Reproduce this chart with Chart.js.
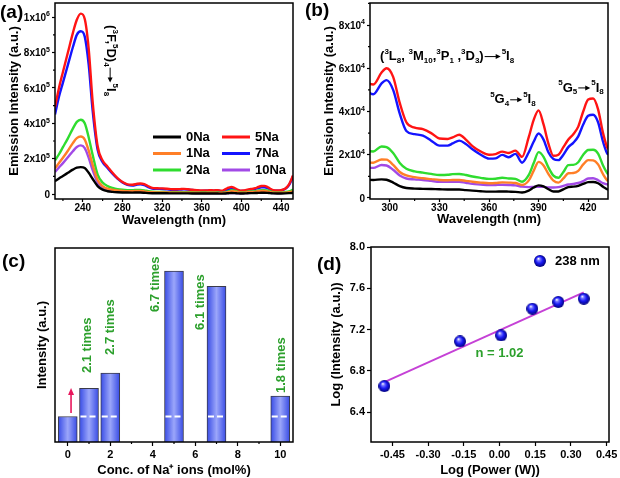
<!DOCTYPE html>
<html>
<head>
<meta charset="utf-8">
<script src="https://cdn.jsdelivr.net/npm/chart.js@4.4.1/dist/chart.umd.min.js"></script>
<style>
    html, body { margin: 0; padding: 0; background: #fff; }
    #page { position: relative; width: 620px; height: 478px; overflow: hidden; }
    canvas { position: absolute; }
</style>
</head>
<body>
<div id="page">
    <canvas id="chartA" width="310" height="232" style="left:0;top:0"></canvas>
    <canvas id="chartB" width="317" height="232" style="left:303px;top:0"></canvas>
    <canvas id="chartC" width="310" height="243" style="left:0;top:235px"></canvas>
    <canvas id="chartD" width="317" height="243" style="left:303px;top:235px"></canvas>
</div>
<script>
// Emission spectra (a, b), values in 10^3 counts
const wavelength = [212, 216, 220, 225, 230, 234, 238, 242, 246, 250, 255, 260, 265, 270, 275, 280, 285,
    290, 295, 298, 302, 306, 310, 315, 320, 325, 330, 335, 338, 342, 346, 350, 355, 360, 364, 368, 372, 376,
    380, 384, 387, 390, 393, 396, 399, 402, 405, 408, 411, 414, 417, 420, 423, 426, 429, 432, 436, 440, 444, 448, 452];

const em0Na = [73, 88, 102, 120, 138, 149, 152, 147, 120, 85, 45, 25, 16, 12, 10, 9, 8.5,
    8.3, 8.6, 8.4, 7.1, 5.5, 4.6, 4.3, 4.2, 4.1, 4, 3.9, 3.9, 3.9, 3.6, 3.4, 3.1, 2.9, 2.9, 3, 2.9, 2.8,
    2.5, 3.4, 4.8, 5.8, 5.3, 4, 3, 3, 4, 5, 5.2, 5.6, 6.5, 7.3, 7.4, 6.8, 5.2, 3.8, 3.5, 3.5, 4, 5, 7];
const em1Na = [145, 175, 205, 245, 288, 316, 325, 308, 245, 165, 80, 45, 30, 24, 20, 18, 16.5,
    16.3, 17.8, 17.7, 15.3, 12, 10.4, 9.6, 9.1, 8.7, 8.3, 8.2, 8.3, 8.3, 7.9, 7.5, 7.1, 6.8, 6.9, 7.2, 7.1, 6.9,
    6, 8, 12.5, 16.7, 15, 11, 8, 7.1, 9, 11.4, 11.5, 12.5, 15.5, 17.5, 17.4, 15.5, 11, 7.8, 7, 7, 8, 10, 15];
const em2Na = [190, 225, 265, 315, 370, 408, 420, 400, 320, 220, 110, 65, 45, 35, 28, 24, 22,
    21.5, 23.8, 23.5, 20.8, 16.2, 13.5, 12.3, 11.7, 11.1, 10.6, 10.7, 11, 11.1, 10.6, 9.9, 9.3, 8.8, 8.9, 9.3, 9, 8.8,
    7.5, 10.5, 16, 21.2, 19, 14, 10.3, 9.3, 12, 15.2, 15.3, 16.5, 20, 22.2, 22.3, 20.5, 15, 11, 9, 9, 11, 15, 25];
const em5Na = [490, 600, 690, 800, 910, 985, 1020, 990, 820, 520, 270, 190, 155, 120, 90, 68, 55,
    52.5, 58, 60, 56, 44, 35, 32.5, 31.8, 30, 27.5, 27.3, 28, 29.2, 27, 24, 21.5, 20, 20.3, 21.4, 20.8, 21.9,
    19, 28, 36, 40.5, 34, 25, 19.5, 20, 23.5, 27, 29.5, 33, 40, 45.5, 46, 41, 30, 22.5, 20, 22, 30, 55, 105];
const em7Na = [450, 550, 630, 730, 830, 900, 920, 890, 730, 470, 250, 180, 148, 115, 87, 66, 52,
    48, 53, 54.5, 50, 39, 31, 29.5, 28.8, 26.5, 24.2, 24.2, 25.2, 26.5, 25, 22.5, 20, 18.2, 18.3, 19.9, 18.8, 20.4,
    16.3, 21, 26, 29.8, 27, 21, 18, 17.5, 20, 23.5, 25.5, 28.5, 34, 38, 38.5, 35, 26, 20, 19, 20, 28, 50, 100];
const em10Na = [125, 150, 175, 208, 242, 266, 275, 260, 205, 135, 65, 38, 25, 19, 16, 15, 14,
    13.9, 15.2, 15, 13, 10.4, 9, 8.6, 8.3, 7.9, 7.5, 7.5, 7.5, 7.5, 7, 6.5, 6.2, 5.9, 6, 6.1, 6, 5.8,
    5.2, 5, 5.1, 5.2, 5.1, 4.9, 4.8, 5, 5.6, 6.2, 6.5, 6.9, 7.8, 9, 9.1, 8.2, 6.8, 6.2, 6, 6, 6.5, 8, 12];

const seriesLabels = ['0Na', '1Na', '2Na', '5Na', '7Na', '10Na'];
const seriesValues = [em0Na, em1Na, em2Na, em5Na, em7Na, em10Na];

const waveTicksA = [240, 280, 320, 360, 400, 440];
const emTicksA = [0, 200, 400, 600, 800, 1000];
const waveTicksB = [300, 330, 360, 390, 420];
const emTicksB = [0, 20, 40, 60, 80];

// Bars (c): relative intensity vs Na+ concentration
const naConc = [0, 1, 2, 5, 7, 10];
const naIntensity = [1, 2.1, 2.7, 6.7, 6.1, 1.8];
const concTicks = [0, 2, 4, 6, 8, 10];

// Power dependence (d)
const logPower = [-0.484, -0.166, 0.007, 0.138, 0.247, 0.354];
const logIntensity = [6.652, 7.085, 7.143, 7.402, 7.467, 7.499];
const fitPower = [-0.484, 0.354];
const fitIntensity = [6.69, 7.56];
const powerTicks = [-0.45, -0.3, -0.15, 0, 0.15, 0.3, 0.45];
const logTicks = [6.4, 6.8, 7.2, 7.6, 8.0];

// Styles
const FONT = '"Liberation Sans", Arial, Helvetica, sans-serif';
const seriesColors = ['#000000', '#ff7f27', '#2fdc2f', '#ff1414', '#1414ff', '#a24ae6'];
const GREEN_TEXT = '#2ca02c';

Chart.defaults.font.family = FONT;
Chart.defaults.font.weight = 'bold';
Chart.defaults.color = '#000';
Chart.defaults.animation = false;

// "2x10^5" style label as rich-text parts (value given in 10^3 counts)
function sciParts(thousands) {
    if (thousands === 0) return [['0', '']];
    const v = thousands * 1000;
    const e = Math.floor(Math.log10(v) + 1e-9);
    return [[Math.round(v / 10 ** e) + 'x10', ''], [String(e), '^']];
}

// text with super/subscripts; kind '^' sup, '_' sub, '>' arrow of given length
function walkRich(ctx, parts, x, y, size, draw) {
    let cx = x;
    for (const [txt, kind] of parts) {
        if (kind === '>') {
            const len = +txt;
            if (draw) {
                ctx.lineWidth = 1;
                ctx.beginPath();
                ctx.moveTo(cx + 1, y);
                ctx.lineTo(cx + len - 2, y);
                ctx.stroke();
                ctx.beginPath();
                ctx.moveTo(cx + len, y);
                ctx.lineTo(cx + len - 5, y - 2.5);
                ctx.lineTo(cx + len - 5, y + 2.5);
                ctx.closePath();
                ctx.fill();
            }
            cx += len + 1;
            continue;
        }
        const s = kind ? Math.round(size * 0.65) : size;
        ctx.font = `bold ${s}px ${FONT}`;
        const dy = kind === '^' ? -size * 0.36 : kind === '_' ? size * 0.3 : 0;
        if (draw) ctx.fillText(txt, cx, y + dy);
        cx += ctx.measureText(txt).width;
    }
    return cx - x;
}

function drawRich(ctx, parts, x, y, size) {
    ctx.textAlign = 'left';
    ctx.textBaseline = 'middle';
    return walkRich(ctx, parts, x, y, size, true);
}

function makeScale({ min, max, ticks, format, title, size, titlePad, tickSize = 11, tickPad = 2, tickLen = 4,
    showTicks = true, showLabels = true }) {
    return {
        type: 'linear',
        min, max,
        offset: false,
        afterBuildTicks: s => { s.ticks = ticks.map(v => ({ value: v })); },
        afterFit: s => { if (s.isHorizontal()) s.height = size; else s.width = size; },
        ticks: {
            display: showTicks && showLabels,
            callback: v => format(v),
            font: { size: tickSize, weight: 'bold' },
            padding: tickPad,
            maxRotation: 0,
            autoSkip: false
        },
        grid: {
            display: showTicks,
            drawOnChartArea: false,
            tickLength: tickLen,
            tickColor: '#000',
            tickWidth: 1.2,
            offset: false
        },
        border: { display: false },
        title: { display: true, text: title, font: { size: 13, weight: 'bold' }, padding: titlePad, color: '#000' }
    };
}

// frame, minor ticks, rich y labels and panel tag
Chart.register({
    id: 'frame',
    defaults: { minorX: true, minorY: true, richY: false, tag: '', tagX: 0, tagY: 0 },
    afterDatasetsDraw(chart, args, opts) {
        const { ctx, chartArea: a, scales } = chart;
        ctx.save();
        ctx.strokeStyle = '#000';
        ctx.fillStyle = '#000';
        ctx.lineWidth = 1.2;
        [['x', opts.minorX], ['y', opts.minorY]].forEach(([id, on]) => {
            const s = scales[id];
            if (!on || s.ticks.length < 2) return;
            const step = s.ticks[1].value - s.ticks[0].value;
            for (let v = s.ticks[0].value - step / 2; v <= s.max; v += step) {
                if (v < s.min) continue;
                const p = s.getPixelForValue(v);
                ctx.beginPath();
                if (id === 'x') { ctx.moveTo(p, a.bottom); ctx.lineTo(p, a.bottom + 2); }
                else { ctx.moveTo(a.left, p); ctx.lineTo(a.left - 2, p); }
                ctx.stroke();
            }
        });
        if (opts.richY) {
            const s = scales.y;
            s.ticks.forEach(t => {
                const parts = sciParts(t.value);
                const w = walkRich(ctx, parts, 0, 0, 10, false);
                drawRich(ctx, parts, a.left - 5 - w, s.getPixelForValue(t.value) + 1, 10);
            });
        }
        ctx.lineWidth = 1.5;
        ctx.strokeRect(a.left, a.top, a.right - a.left, a.bottom - a.top);
        ctx.font = `bold 19px ${FONT}`;
        ctx.textAlign = 'left';
        ctx.textBaseline = 'middle';
        ctx.fillText(opts.tag, opts.tagX, opts.tagY);
        ctx.restore();
    }
});

function spectrumDatasets() {
    return seriesLabels.map((label, i) => ({
        label,
        data: wavelength.map((w, j) => ({ x: w, y: seriesValues[i][j] })),
        borderColor: seriesColors[i],
        borderWidth: 2.4,
        pointRadius: 0,
        cubicInterpolationMode: 'monotone'
    }));
}

function createSpectrumFull() {
    const transition = [['(', ''], ['3', '^'], ['F,', ''], ['5', '^'], ['D)', ''], ['4', '_'],
        ['16', '>'], ['5', '^'], ['I', ''], ['8', '_']];

    const notes = {
        id: 'notesA',
        afterDatasetsDraw(chart) {
            const { ctx, scales: { x, y } } = chart;
            ctx.save();
            ctx.textAlign = 'left';
            ctx.textBaseline = 'middle';
            chart.data.datasets.forEach((ds, i) => {
                const lx = 153 + Math.floor(i / 3) * 69;
                const ly = 137 + (i % 3) * 16.5;
                ctx.strokeStyle = ds.borderColor;
                ctx.lineWidth = 3;
                ctx.beginPath();
                ctx.moveTo(lx, ly);
                ctx.lineTo(lx + 28, ly);
                ctx.stroke();
                ctx.fillStyle = '#000';
                ctx.font = `bold 13px ${FONT}`;
                ctx.fillText(ds.label, lx + 33, ly);
            });
            ctx.fillStyle = '#000';
            ctx.strokeStyle = '#000';
            ctx.translate(x.getPixelForValue(267.6), y.getPixelForValue(955));
            ctx.rotate(Math.PI / 2);
            drawRich(ctx, transition, 0, 0, 13);
            ctx.restore();
        }
    };

    new Chart(document.getElementById('chartA'), {
        type: 'line',
        data: { datasets: spectrumDatasets() },
        options: {
            responsive: false,
            layout: { padding: { left: 0, right: 17, top: 3, bottom: 0 }, autoPadding: false },
            plugins: {
                legend: { display: false },
                tooltip: { enabled: false },
                frame: { tag: '(a)', tagX: 0, tagY: 13, richY: true }
            },
            scales: {
                x: makeScale({ min: 212, max: 452, ticks: waveTicksA, format: v => v, title: 'Wavelength (nm)',
                    size: 33, titlePad: { top: 0, bottom: 4 }, tickSize: 10, tickPad: 0, tickLen: 3 }),
                y: makeScale({ min: -28, max: 1080, ticks: emTicksA, format: v => v, title: 'Emission Intensity (a.u.)',
                    size: 55, titlePad: { top: 7, bottom: 0 }, tickLen: 3, showLabels: false })
            }
        },
        plugins: [notes]
    });
}

function createSpectrumZoom() {
    const labels = [
        { at: [294.1, 65.4], parts: [['(', ''], ['3', '^'], ['L', ''], ['8', '_'], [', ', ''], ['3', '^'], ['M', ''], ['10', '_'],
            [',', ''], ['3', '^'], ['P', ''], ['1', '_'], [' ,', ''], ['3', '^'], ['D', ''], ['3', '_'], [')', ''],
            ['17', '>'], ['5', '^'], ['I', ''], ['8', '_']] },
        { at: [360.7, 45.4], parts: [['5', '^'], ['G', ''], ['4', '_'], ['13', '>'], ['5', '^'], ['I', ''], ['8', '_']] },
        { at: [401.9, 50.9], parts: [['5', '^'], ['G', ''], ['5', '_'], ['13', '>'], ['5', '^'], ['I', ''], ['8', '_']] }
    ];

    const notes = {
        id: 'notesB',
        afterDatasetsDraw(chart) {
            const { ctx, scales: { x, y } } = chart;
            ctx.save();
            ctx.fillStyle = '#000';
            ctx.strokeStyle = '#000';
            labels.forEach(l => drawRich(ctx, l.parts, x.getPixelForValue(l.at[0]), y.getPixelForValue(l.at[1]), 13));
            ctx.restore();
        }
    };

    new Chart(document.getElementById('chartB'), {
        type: 'line',
        data: { datasets: spectrumDatasets() },
        options: {
            responsive: false,
            layout: { padding: { left: 0, right: 12, top: 3, bottom: 0 }, autoPadding: false },
            plugins: {
                legend: { display: false },
                tooltip: { enabled: false },
                frame: { tag: '(b)', tagX: 2, tagY: 11, richY: true }
            },
            scales: {
                x: makeScale({ min: 288, max: 432, ticks: waveTicksB, format: v => v, title: 'Wavelength (nm)',
                    size: 33, titlePad: { top: 0, bottom: 5 }, tickSize: 10, tickPad: 0, tickLen: 3 }),
                y: makeScale({ min: -0.5, max: 90.2, ticks: emTicksB, format: v => v, title: 'Emission Intensity (a.u.)',
                    size: 67, titlePad: { top: 19, bottom: 0 }, tickLen: 3, showLabels: false })
            }
        },
        plugins: [notes]
    });
}

function createConcentrationBars() {
    // anchor of each "n times" label: [x, y of text start]
    const labelAnchors = [null, [0.906, 2.7], [1.99, 3.41], [4.11, 5.09], [6.22, 4.39], [10.04, 1.92]];

    const notes = {
        id: 'notesC',
        afterDatasetsDraw(chart) {
            const { ctx, scales: { x, y } } = chart;
            const meta = chart.getDatasetMeta(0);
            const base = y.getPixelForValue(naIntensity[0]);
            ctx.save();
            ctx.strokeStyle = '#fff';
            ctx.lineWidth = 2;
            ctx.setLineDash([6, 3]);
            meta.data.forEach((bar, i) => {
                if (i === 0) return;
                const { x: bx, width } = bar.getProps(['x', 'width'], true);
                ctx.beginPath();
                ctx.moveTo(bx - width / 2 + 1, base);
                ctx.lineTo(bx + width / 2 - 1, base);
                ctx.stroke();
            });
            ctx.setLineDash([]);

            // arrow from the reference bar
            const ax = x.getPixelForValue(0.155);
            const a0 = y.getPixelForValue(1.14), a1 = y.getPixelForValue(2.12);
            ctx.strokeStyle = '#e8175d';
            ctx.fillStyle = '#e8175d';
            ctx.lineWidth = 1.6;
            ctx.beginPath();
            ctx.moveTo(ax, a0);
            ctx.lineTo(ax, a1 + 5);
            ctx.stroke();
            ctx.beginPath();
            ctx.moveTo(ax, a1);
            ctx.lineTo(ax - 3, a1 + 7);
            ctx.lineTo(ax + 3, a1 + 7);
            ctx.closePath();
            ctx.fill();

            ctx.fillStyle = GREEN_TEXT;
            ctx.font = `bold 13px ${FONT}`;
            ctx.textAlign = 'left';
            ctx.textBaseline = 'middle';
            naIntensity.forEach((v, i) => {
                if (!labelAnchors[i]) return;
                ctx.save();
                ctx.translate(x.getPixelForValue(labelAnchors[i][0]), y.getPixelForValue(labelAnchors[i][1]));
                ctx.rotate(-Math.PI / 2);
                ctx.fillText((v / naIntensity[0]).toFixed(1) + ' times', 0, 0);
                ctx.restore();
            });
            ctx.restore();
        }
    };

    new Chart(document.getElementById('chartC'), {
        type: 'bar',
        data: {
            datasets: [{
                data: naConc.map((c, i) => ({ x: c, y: naIntensity[i] })),
                barThickness: 19,
                borderWidth: 1,
                borderColor: '#3a3a4a',
                backgroundColor: c => {
                    if (!c.chart.chartArea || !c.raw) return '#6676f2';
                    const cx = c.chart.scales.x.getPixelForValue(c.raw.x);
                    const g = c.chart.ctx.createLinearGradient(cx - 10, 0, cx + 10, 0);
                    g.addColorStop(0, '#3347e4');
                    g.addColorStop(0.5, '#9ba6fa');
                    g.addColorStop(1, '#3347e4');
                    return g;
                }
            }]
        },
        options: {
            responsive: false,
            layout: { padding: { left: 0, right: 17, top: 13, bottom: 0 }, autoPadding: false },
            plugins: {
                legend: { display: false },
                tooltip: { enabled: false },
                frame: { tag: '(c)', tagX: 2, tagY: 27, minorY: false }
            },
            scales: {
                x: makeScale({ min: -0.6, max: 10.6, ticks: concTicks, format: v => v, title: 'Conc. of Na⁺ ions (mol%)',
                    size: 36, titlePad: { top: 0, bottom: 0 } }),
                y: makeScale({ min: 0, max: 7.6, ticks: [0], format: v => '', title: 'Intensity (a.u.)',
                    size: 55, titlePad: { top: 35, bottom: 0 }, showTicks: false })
            }
        },
        plugins: [notes]
    });
}

function makeSphere(r) {
    const c = document.createElement('canvas');
    c.width = c.height = 2 * r;
    const g = c.getContext('2d');
    const grad = g.createRadialGradient(r * 0.72, r * 0.6, r * 0.05, r, r, r);
    grad.addColorStop(0, '#ffffff');
    grad.addColorStop(0.2, '#7c7cff');
    grad.addColorStop(0.55, '#1a1af5');
    grad.addColorStop(1, '#00007a');
    g.fillStyle = grad;
    g.beginPath();
    g.arc(r, r, r, 0, Math.PI * 2);
    g.fill();
    return c;
}

function createPowerChart() {
    const sphere = makeSphere(6);

    const notes = {
        id: 'notesD',
        afterDatasetsDraw(chart) {
            const { ctx, scales: { x, y } } = chart;
            ctx.save();
            ctx.drawImage(sphere, 237 - 6, 26 - 6);
            ctx.fillStyle = '#000';
            ctx.font = `bold 13px ${FONT}`;
            ctx.textAlign = 'left';
            ctx.textBaseline = 'middle';
            ctx.fillText('238 nm', 252, 26);
            ctx.fillStyle = GREEN_TEXT;
            ctx.textAlign = 'center';
            ctx.fillText('n = 1.02', x.getPixelForValue(0), y.getPixelForValue(6.97));
            ctx.restore();
        }
    };

    new Chart(document.getElementById('chartD'), {
        type: 'scatter',
        data: {
            datasets: [{
                label: '238 nm',
                data: logPower.map((p, i) => ({ x: p, y: logIntensity[i] })),
                pointStyle: sphere,
                pointRadius: 6
            }, {
                type: 'line',
                data: fitPower.map((p, i) => ({ x: p, y: fitIntensity[i] })),
                borderColor: '#c541d6',
                borderWidth: 2,
                pointRadius: 0,
                showLine: true
            }]
        },
        options: {
            responsive: false,
            layout: { padding: { left: 0, right: 11, top: 12, bottom: 0 }, autoPadding: false },
            plugins: {
                legend: { display: false },
                tooltip: { enabled: false },
                frame: { tag: '(d)', tagX: 14, tagY: 30, minorX: false, minorY: false }
            },
            scales: {
                x: makeScale({ min: -0.54, max: 0.46, ticks: powerTicks, format: v => v.toFixed(2), title: 'Log (Power (W))',
                    size: 36, titlePad: { top: 0, bottom: 0 } }),
                y: makeScale({ min: 6.11, max: 8.0, ticks: logTicks, format: v => v.toFixed(1), title: 'Log (Intensity (a.u.))',
                    size: 68, titlePad: { top: 26, bottom: 0 } })
            }
        },
        plugins: [notes]
    });
}

createSpectrumFull();
createSpectrumZoom();
createConcentrationBars();
createPowerChart();
</script>
</body>
</html>
